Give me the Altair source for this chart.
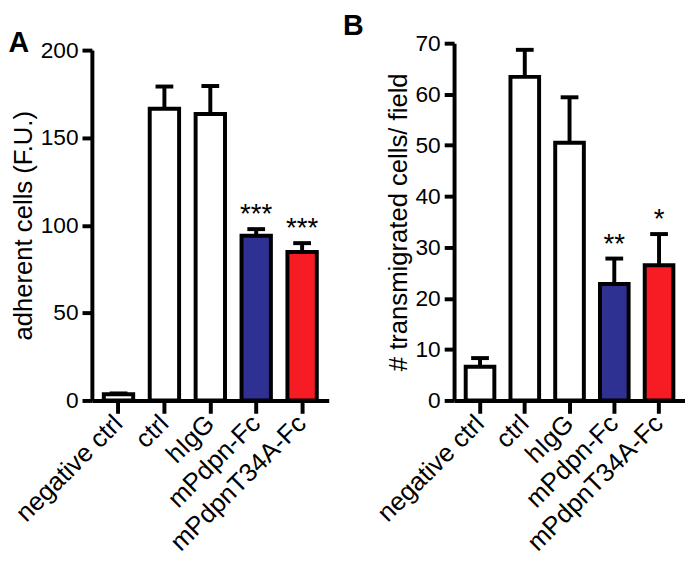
import altair as alt
import pandas as pd

categories = ["negative ctrl", "ctrl", "hIgG", "mPdpn-Fc", "mPdpnT34A-Fc"]
bar_colors = ["#FFFFFF", "#FFFFFF", "#FFFFFF", "#2E3192", "#F71C24"]

adherent_mean = [3.5, 166.5, 163.5, 94.0, 84.7]
adherent_upper = [4.0, 179.2, 179.5, 97.8, 89.8]
adherent_sig = ["", "", "", "***", "***"]

transmig_mean = [6.6, 63.4, 50.5, 22.8, 26.5]
transmig_upper = [8.3, 68.7, 59.4, 27.8, 32.6]
transmig_sig = ["", "", "", "**", "*"]

adherent_ticks = [0, 50, 100, 150, 200]
transmig_ticks = [0, 10, 20, 30, 40, 50, 60, 70]

FONT = "Liberation Sans"
H = 362


def panel(means, uppers, sigs, ymax, ticks, ytitle, letter, width, top_gap, t_dx):
    df = pd.DataFrame({"category": categories, "mean": means, "upper": uppers, "sig": sigs})
    xsort = alt.X("category:N", sort=categories)
    x = alt.X(
        "category:N",
        sort=categories,
        scale=alt.Scale(paddingInner=0.36, paddingOuter=0.26),
        axis=alt.Axis(
            title=None, labelAngle=-45, labelAlign="right", labelBaseline="middle",
            labelFontSize=26, labelLimit=400, tickSize=13, labelPadding=6,
            domainWidth=4, tickWidth=4,
        ),
    )
    yscale = alt.Scale(domain=[0, ymax], nice=False, zero=True, range=[H, top_gap])
    y = alt.Y(
        "mean:Q",
        scale=yscale,
        axis=alt.Axis(
            values=ticks, title=ytitle, grid=False, tickSize=10, labelPadding=4,
            labelFontSize=23, titleFontSize=26, titleFontWeight="normal", titlePadding=4,
            domainWidth=4, tickWidth=4,
        ),
    )
    base = alt.Chart(df)
    bars = base.mark_bar(stroke="black", strokeWidth=4).encode(
        x=x, y=y,
        color=alt.Color("category:N", scale=alt.Scale(domain=categories, range=bar_colors), legend=None),
    )
    rule = base.mark_rule(color="black", strokeWidth=4).encode(x=xsort, y="mean:Q", y2="upper:Q")
    cap = base.mark_tick(color="black", thickness=4, size=18, opacity=1).encode(x=xsort, y="upper:Q")
    stars = base.mark_text(fontSize=28, baseline="alphabetic", dy=-6, color="black", font=FONT).encode(
        x=xsort, y="upper:Q", text="sig:N"
    )
    return alt.layer(rule, cap, bars, stars).properties(
        width=width,
        height=H,
        title=alt.TitleParams(
            text=letter, anchor="start", fontSize=29, fontWeight="bold", font=FONT,
            color="black", offset=-19, dx=t_dx,
        ),
    )


chart_a = panel(adherent_mean, adherent_upper, adherent_sig, 200, adherent_ticks,
                "adherent cells (F.U.)", "A", 240, 7, -2)
chart_b = panel(transmig_mean, transmig_upper, transmig_sig, 70, transmig_ticks,
                "# transmigrated cells/ field", "B", 234, 0, -30)

chart = (
    alt.hconcat(chart_a, chart_b, spacing=14)
    .properties(padding={"left": 0, "top": 0, "right": 0, "bottom": 0})
    .configure(font=FONT)
    .configure_view(stroke=None)
    .configure_axis(domainColor="black", tickColor="black", labelColor="black", titleColor="black",
                    labelFont=FONT, titleFont=FONT)
)

chart.save("out.html", embed_options={"renderer": "svg", "actions": False})
